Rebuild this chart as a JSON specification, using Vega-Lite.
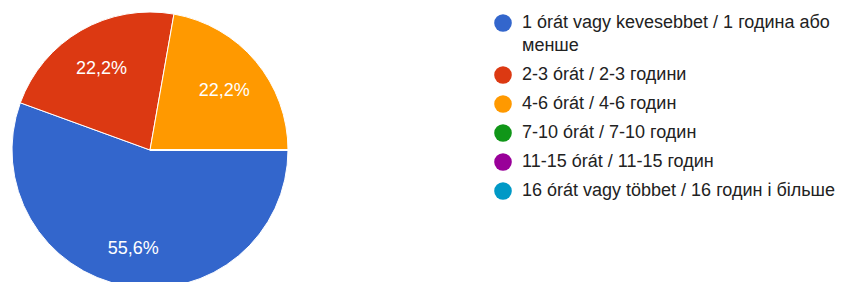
{
  "$schema": "https://vega.github.io/schema/vega-lite/v6.json",
  "width": 276,
  "height": 276,
  "autosize": "none",
  "padding": {"left": 12, "top": 12, "right": 555, "bottom": 0},
  "background": "white",
  "config": {"view": {"stroke": null}, "font": "Liberation Sans", "style": {"guide-label": {"lineHeight": 23}}},
  "data": {
    "values": [
      {"cat": "1 órát vagy kevesebbet / 1 година або менше", "ord": 1, "n": 5, "pct": "55,6%"},
      {"cat": "2-3 órát / 2-3 години", "ord": 2, "n": 2, "pct": "22,2%"},
      {"cat": "4-6 órát / 4-6 годин", "ord": 3, "n": 2, "pct": "22,2%"},
      {"cat": "7-10 órát / 7-10 годин", "ord": 4, "n": 0, "pct": ""},
      {"cat": "11-15 órát / 11-15 годин", "ord": 5, "n": 0, "pct": ""},
      {"cat": "16 órát vagy többet / 16 годин і більше", "ord": 6, "n": 0, "pct": ""}
    ]
  },
  "encoding": {
    "theta": {"field": "n", "type": "quantitative", "stack": true, "scale": {"range": [1.5708, 7.854]}},
    "order": {"field": "ord", "type": "quantitative", "sort": "ascending"}
  },
  "layer": [
    {
      "mark": {"type": "arc", "stroke": "white", "strokeWidth": 1},
      "encoding": {
        "color": {
          "field": "cat",
          "type": "nominal",
          "sort": {"field": "ord"},
          "scale": {
            "domain": ["1 órát vagy kevesebbet / 1 година або менше", "2-3 órát / 2-3 години", "4-6 órát / 4-6 годин", "7-10 órát / 7-10 годин", "11-15 órát / 11-15 годин", "16 órát vagy többet / 16 годин і більше"],
            "range": ["#3366cc", "#dc3912", "#ff9900", "#109618", "#990099", "#0099c6"]
          },
          "legend": {
            "title": null,
            "orient": "right",
            "offset": 204,
            "symbolType": "circle",
            "symbolSize": 310,
            "symbolStrokeWidth": 0,
            "labelFont": "Liberation Sans",
            "labelFontSize": 18,
            "labelColor": "#222222",
            "labelLimit": 400,
            "labelOffset": 10,
            "rowPadding": 11,
            "padding": 2,
            "labelExpr": "datum.label == '1 órát vagy kevesebbet / 1 година або менше' ? ['1 órát vagy kevesebbet / 1 година або', 'менше'] : datum.label"
          }
        }
      }
    },
    {
      "transform": [{"filter": "datum.n > 0"}],
      "mark": {"type": "text", "radius": 97, "dy": 3, "fill": "white", "fontSize": 18, "font": "Liberation Sans"},
      "encoding": {"text": {"field": "pct"}}
    }
  ]
}
